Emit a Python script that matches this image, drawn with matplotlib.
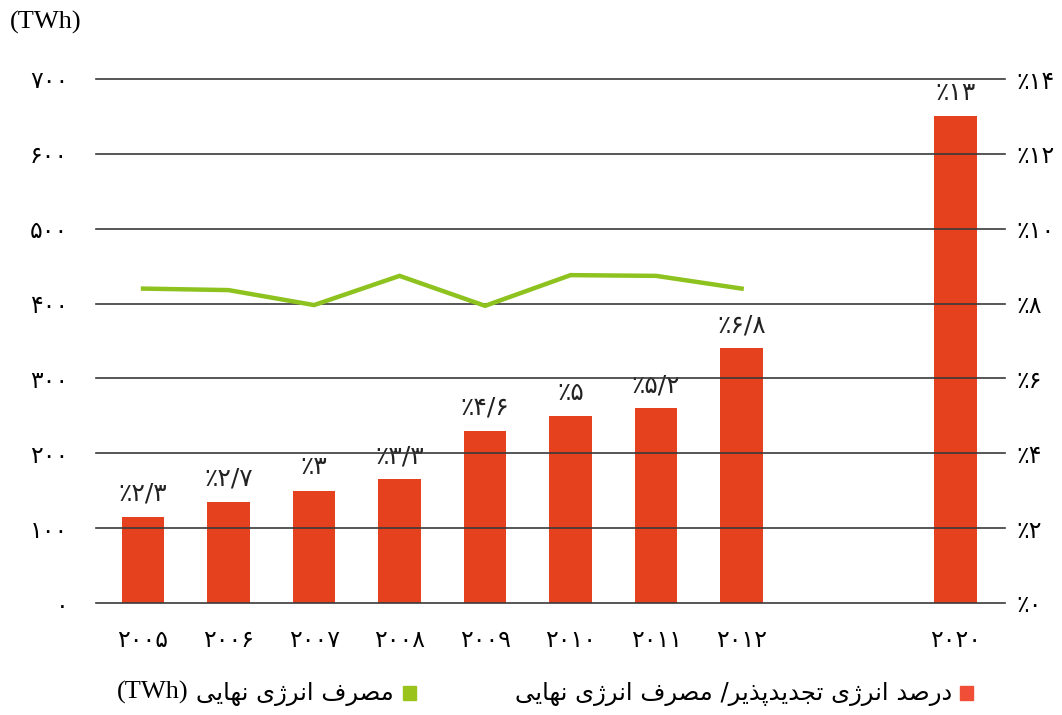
import matplotlib
matplotlib.use("Agg")
import matplotlib.pyplot as plt
from matplotlib.patches import Rectangle

years = ["2005", "2006", "2007", "2008", "2009", "2010", "2011", "2012", "2020"]
share_pct = [2.3, 2.7, 3.0, 3.3, 4.6, 5.0, 5.2, 6.8, 13.0]
consumption_twh = [420, 418, 398, 437, 397, 438, 437, 420]
left_ticks = [0, 100, 200, 300, 400, 500, 600, 700]
right_ticks = [0, 2, 4, 6, 8, 10, 12, 14]

legend_share = "درصد انرژی تجدیدپذیر/ مصرف انرژی نهایی"
legend_cons = "مصرف انرژی نهایی"
unit = "(TWh)"

# x slots: the 2020 bar sits apart from the yearly series
xpos = [0, 1, 2, 3, 4, 5, 6, 7, 9.5]

RED = "#e5411e"
GREEN = "#8dc21f"

FA_DIGITS = str.maketrans("0123456789.", "۰۱۲۳۴۵۶۷۸۹/")

def fa(s):
    return str(s).translate(FA_DIGITS)

# simple arabic shaping, matplotlib has no bidi / joining
FORMS = {
    'ا': (0xFE8D, 0xFE8E),
    'د': (0xFEA9, 0xFEAA),
    'ذ': (0xFEAB, 0xFEAC),
    'ر': (0xFEAD, 0xFEAE),
    'ژ': (0xFB8A, 0xFB8B),
    'ص': (0xFEB9, 0xFEBA, 0xFEBB, 0xFEBC),
    'ن': (0xFEE5, 0xFEE6, 0xFEE7, 0xFEE8),
    'ت': (0xFE95, 0xFE96, 0xFE97, 0xFE98),
    'ج': (0xFE9D, 0xFE9E, 0xFE9F, 0xFEA0),
    'پ': (0xFB56, 0xFB57, 0xFB58, 0xFB59),
    'م': (0xFEE1, 0xFEE2, 0xFEE3, 0xFEE4),
    'ف': (0xFED1, 0xFED2, 0xFED3, 0xFED4),
    'ه': (0xFEE9, 0xFEEA, 0xFEEB, 0xFEEC),
    'ی': (0xFBFC, 0xFBFD, 0xFBFE, 0xFBFF),
}

def shape_word(w):
    if not any(c in FORMS for c in w):
        return w
    out = []
    for i, ch in enumerate(w):
        f = FORMS.get(ch)
        if f is None:
            out.append(ch)
            continue
        prev_joins = i > 0 and w[i-1] in FORMS and len(FORMS[w[i-1]]) == 4
        next_exists = i < len(w) - 1 and w[i+1] in FORMS
        if len(f) == 4:
            if prev_joins and next_exists:
                g = f[3]
            elif prev_joins:
                g = f[1]
            elif next_exists:
                g = f[2]
            else:
                g = f[0]
        else:
            g = f[1] if prev_joins else f[0]
        out.append(chr(g))
    return ''.join(reversed(out))

def rtl(text):
    return ' '.join(shape_word(w) for w in reversed(text.split(' ')))

plt.rcParams['font.family'] = ['DejaVu Sans']

fig = plt.figure(figsize=(10.62, 7.15), dpi=100)
ax = fig.add_axes([96/1062, 112/715, 909/1062, 524/715])
ax2 = ax.twinx()

ax.set_ylim(0, 700)
ax2.set_ylim(0, 14)
ax.set_xlim(-0.55, 10.08)

for t in left_ticks:
    ax.axhline(t, color="#3a3a3a", lw=1.2, zorder=0, clip_on=False)

ax2.bar(xpos, share_pct, width=0.5, color=RED, zorder=3)
for x, v in zip(xpos, share_pct):
    ax2.text(x, v + 0.3, "٪" + fa("%g" % v), ha="center", va="bottom",
             fontsize=18, color="#222222")

ax.plot(xpos[:len(consumption_twh)], consumption_twh, color=GREEN, lw=3.2,
        zorder=4, solid_joinstyle="miter")
ax.set_zorder(ax2.get_zorder() + 1)
ax.patch.set_visible(False)

for a in (ax, ax2):
    for s in a.spines.values():
        s.set_visible(False)

ax.set_yticks(left_ticks)
ax.set_yticklabels([fa(t) for t in left_ticks], fontsize=17)
ax.tick_params(axis="y", length=0, pad=20)
ax2.set_yticks(right_ticks)
ax2.set_yticklabels(["٪" + fa(t) for t in right_ticks], fontsize=17)
ax2.tick_params(axis="y", length=0, pad=8)

ax.set_xticks(xpos)
ax.set_xticklabels([fa(y) for y in years], fontsize=17)
ax.tick_params(axis="x", length=0, pad=18)

fig.text(10/1062, 1 - 22/715, unit, fontsize=19, family="Liberation Serif",
         ha="left", va="center")

# legend, right-to-left: marker right of text
fig.patches.append(Rectangle((960/1062, 1 - 700/715), 13/1062, 14/715,
                             transform=fig.transFigure, color="#f04e37"))
fig.text(952/1062, 1 - 694/715, rtl(legend_share), fontsize=17.5,
         ha="right", va="center")
fig.patches.append(Rectangle((403/1062, 1 - 700/715), 13/1062, 14/715,
                             transform=fig.transFigure, color="#9ac31c"))
cons_txt = fig.text(394/1062, 1 - 694/715, rtl(legend_cons), fontsize=17.5,
                    ha="right", va="center")
renderer = fig.canvas.get_renderer()
left_px = cons_txt.get_window_extent(renderer).x0
fig.text((left_px - 8) / 1062, 1 - 692/715, unit, fontsize=19,
         family="Liberation Serif", ha="right", va="center")

fig.savefig("out.png", dpi=100, facecolor="white")
